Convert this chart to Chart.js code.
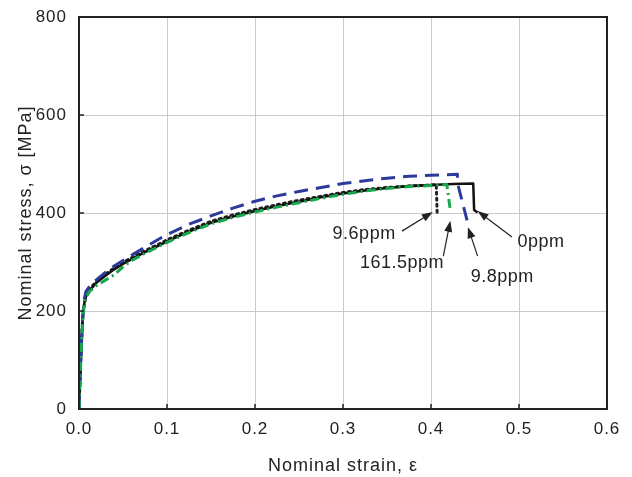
<!DOCTYPE html>
<html>
<head>
<meta charset="utf-8">
<script src="https://cdn.jsdelivr.net/npm/chart.js@4"></script>
<style>
  html, body { margin: 0; padding: 0; background: #fff; }
  #wrap { width: 632px; height: 477px; }
</style>
</head>
<body>
<div id="wrap"><canvas id="myChart" width="632" height="477"></canvas></div>
<script>
// datos (strain, stress MPa)
const strain0 = [0, 0.002, 0.004, 0.006, 0.008, 0.012, 0.02, 0.03, 0.04, 0.05, 0.06, 0.075, 0.09, 0.1, 0.125, 0.15, 0.175, 0.2, 0.225, 0.25, 0.275, 0.3, 0.325, 0.35, 0.375, 0.4, 0.425, 0.448, 0.449, 0.453];
const stress0 = [0, 100, 180, 215, 230, 242, 258, 272, 285, 296, 306, 320, 333, 342, 362, 380, 393, 404, 414, 423, 432, 440, 446, 451, 455, 457, 459, 460, 406, 401];

const strain96 = [0, 0.002, 0.004, 0.006, 0.008, 0.012, 0.02, 0.03, 0.04, 0.05, 0.06, 0.075, 0.09, 0.1, 0.125, 0.15, 0.175, 0.2, 0.225, 0.25, 0.275, 0.3, 0.325, 0.35, 0.375, 0.4, 0.406, 0.407];
const stress96 = [0, 100, 180, 215, 232, 245, 261, 275, 288, 299, 309, 323, 336, 345, 365, 383, 396, 407, 417, 426, 434, 442, 448, 452, 455, 457, 458, 398];

const strain1615 = [0, 0.002, 0.004, 0.006, 0.008, 0.012, 0.02, 0.03, 0.04, 0.05, 0.06, 0.075, 0.09, 0.1, 0.125, 0.15, 0.175, 0.2, 0.225, 0.25, 0.275, 0.3, 0.325, 0.35, 0.375, 0.4, 0.418, 0.422];
const stress1615 = [0, 100, 180, 212, 228, 240, 252, 263, 274, 290, 303, 318, 331, 340, 360, 378, 391, 402, 412, 421, 430, 438, 445, 450, 454, 456, 458, 405];

const strain98 = [0, 0.002, 0.004, 0.006, 0.008, 0.012, 0.02, 0.03, 0.04, 0.05, 0.06, 0.075, 0.09, 0.1, 0.125, 0.15, 0.175, 0.2, 0.225, 0.25, 0.275, 0.3, 0.325, 0.35, 0.375, 0.4, 0.415, 0.43, 0.43, 0.441];
const stress98 = [0, 100, 185, 225, 240, 250, 264, 279, 292, 303, 314, 330, 346, 356, 377, 394, 410, 424, 435, 444, 452, 460, 466, 471, 475, 477, 478, 479, 462, 385];

const xTicks = [0, 0.1, 0.2, 0.3, 0.4, 0.5, 0.6];
const yTicks = [0, 200, 400, 600, 800];

// etiquetas con flechas (posiciones en unidades de los ejes)
const etiquetas = ["9.6ppm", "161.5ppm", "9.8ppm", "0ppm"];
const etiquetaX = [0.324, 0.367, 0.481, 0.525];
const etiquetaY = [346, 288, 259, 331];
const flechaX0 = [0.367, 0.414, 0.453, 0.492];
const flechaY0 = [363, 312, 312, 351];
const flechaX1 = [0.402, 0.422, 0.442, 0.453];
const flechaY1 = [402, 384, 371, 404];

const FONT = "'Liberation Sans', Arial, Helvetica, sans-serif";

function puntos(xs, ys) {
    return xs.map((x, i) => ({ x: x, y: ys[i] }));
}

const espaciado = {
    id: "espaciado",
    beforeInit(chart) { chart.ctx.letterSpacing = "1px"; },
    beforeDraw(chart) { chart.ctx.letterSpacing = "1px"; }
};

const marco = {
    id: "marco",
    afterDatasetsDraw(chart) {
        const { ctx, chartArea: a, scales } = chart;
        ctx.save();
        // ticks hacia adentro
        ctx.strokeStyle = "#222";
        ctx.lineWidth = 1.5;
        xTicks.forEach(t => {
            const px = scales.x.getPixelForValue(t);
            ctx.beginPath();
            ctx.moveTo(px, a.bottom);
            ctx.lineTo(px, a.bottom - 5);
            ctx.stroke();
        });
        yTicks.forEach(t => {
            const py = scales.y.getPixelForValue(t);
            ctx.beginPath();
            ctx.moveTo(a.left, py);
            ctx.lineTo(a.left + 5, py);
            ctx.stroke();
        });
        // borde
        ctx.lineWidth = 2;
        ctx.strokeRect(a.left, a.top, a.right - a.left, a.bottom - a.top);

        // etiquetas
        ctx.font = "18px " + FONT;
        ctx.letterSpacing = "0.5px";
        ctx.fillStyle = "#222";
        ctx.textAlign = "center";
        ctx.textBaseline = "alphabetic";
        etiquetas.forEach((txt, i) => {
            ctx.fillText(txt, scales.x.getPixelForValue(etiquetaX[i]), scales.y.getPixelForValue(etiquetaY[i]));
            const x0 = scales.x.getPixelForValue(flechaX0[i]);
            const y0 = scales.y.getPixelForValue(flechaY0[i]);
            const x1 = scales.x.getPixelForValue(flechaX1[i]);
            const y1 = scales.y.getPixelForValue(flechaY1[i]);
            const ang = Math.atan2(y1 - y0, x1 - x0);
            ctx.lineWidth = 1.2;
            ctx.beginPath();
            ctx.moveTo(x0, y0);
            ctx.lineTo(x1 - 6 * Math.cos(ang), y1 - 6 * Math.sin(ang));
            ctx.stroke();
            ctx.beginPath();
            ctx.moveTo(x1, y1);
            ctx.lineTo(x1 - 11 * Math.cos(ang) + 4 * Math.sin(ang), y1 - 11 * Math.sin(ang) - 4 * Math.cos(ang));
            ctx.lineTo(x1 - 11 * Math.cos(ang) - 4 * Math.sin(ang), y1 - 11 * Math.sin(ang) + 4 * Math.cos(ang));
            ctx.closePath();
            ctx.fill();
        });
        ctx.restore();
    }
};

const datasets = [
    {
        label: "161.5ppm",
        data: puntos(strain1615, stress1615),
        borderColor: "#17a84b",
        borderWidth: 3,
        borderDash: [9, 4, 2, 4]
    },
    {
        label: "9.8ppm",
        data: puntos(strain98, stress98),
        borderColor: "#2c3a9c",
        borderWidth: 3,
        borderDash: [14, 8]
    },
    {
        label: "0ppm",
        data: puntos(strain0, stress0),
        borderColor: "#111",
        borderWidth: 2.5
    },
    {
        label: "9.6ppm",
        data: puntos(strain96, stress96),
        borderColor: "#222",
        borderWidth: 3,
        borderDash: [2, 4],
        borderCapStyle: "round"
    }
];

const config = {
    type: "scatter",
    data: { datasets },
    options: {
        responsive: false,
        animation: false,
        showLine: true,
        elements: { point: { radius: 0 }, line: { tension: 0, fill: false, borderJoinStyle: "round" } },
        layout: { padding: { left: 0, top: 17, right: 25, bottom: 0 } },
        plugins: { legend: { display: false }, tooltip: { enabled: false } },
        scales: {
            x: {
                type: "linear",
                min: 0, max: 0.6,
                afterBuildTicks(scale) { scale.ticks = xTicks.map(v => ({ value: v })); },
                afterFit(scale) { scale.height = 68; },
                grid: { color: "#cbcbcb", lineWidth: 1, drawTicks: false },
                border: { display: false },
                ticks: {
                    padding: 10,
                    color: "#222",
                    font: { family: FONT, size: 17 },
                    callback: v => v.toFixed(1)
                },
                title: {
                    display: true,
                    text: "Nominal strain, ε",
                    color: "#222",
                    font: { family: FONT, size: 18 },
                    padding: { top: 0, bottom: 0 }
                }
            },
            y: {
                type: "linear",
                min: 0, max: 800,
                afterBuildTicks(scale) { scale.ticks = yTicks.map(v => ({ value: v })); },
                afterFit(scale) {
                    scale.width = 79;
                    scale.paddingTop = 0;
                    scale.paddingBottom = 0;
                },
                grid: { color: "#cbcbcb", lineWidth: 1, drawTicks: false },
                border: { display: false },
                ticks: {
                    padding: 12,
                    color: "#222",
                    font: { family: FONT, size: 17 }
                },
                title: {
                    display: true,
                    text: "Nominal stress, σ [MPa]",
                    color: "#222",
                    font: { family: FONT, size: 18 },
                    padding: { top: 15, bottom: 0 }
                }
            }
        }
    },
    plugins: [espaciado, marco]
};

window.chart = new Chart(document.getElementById("myChart"), config);
</script>
</body>
</html>
